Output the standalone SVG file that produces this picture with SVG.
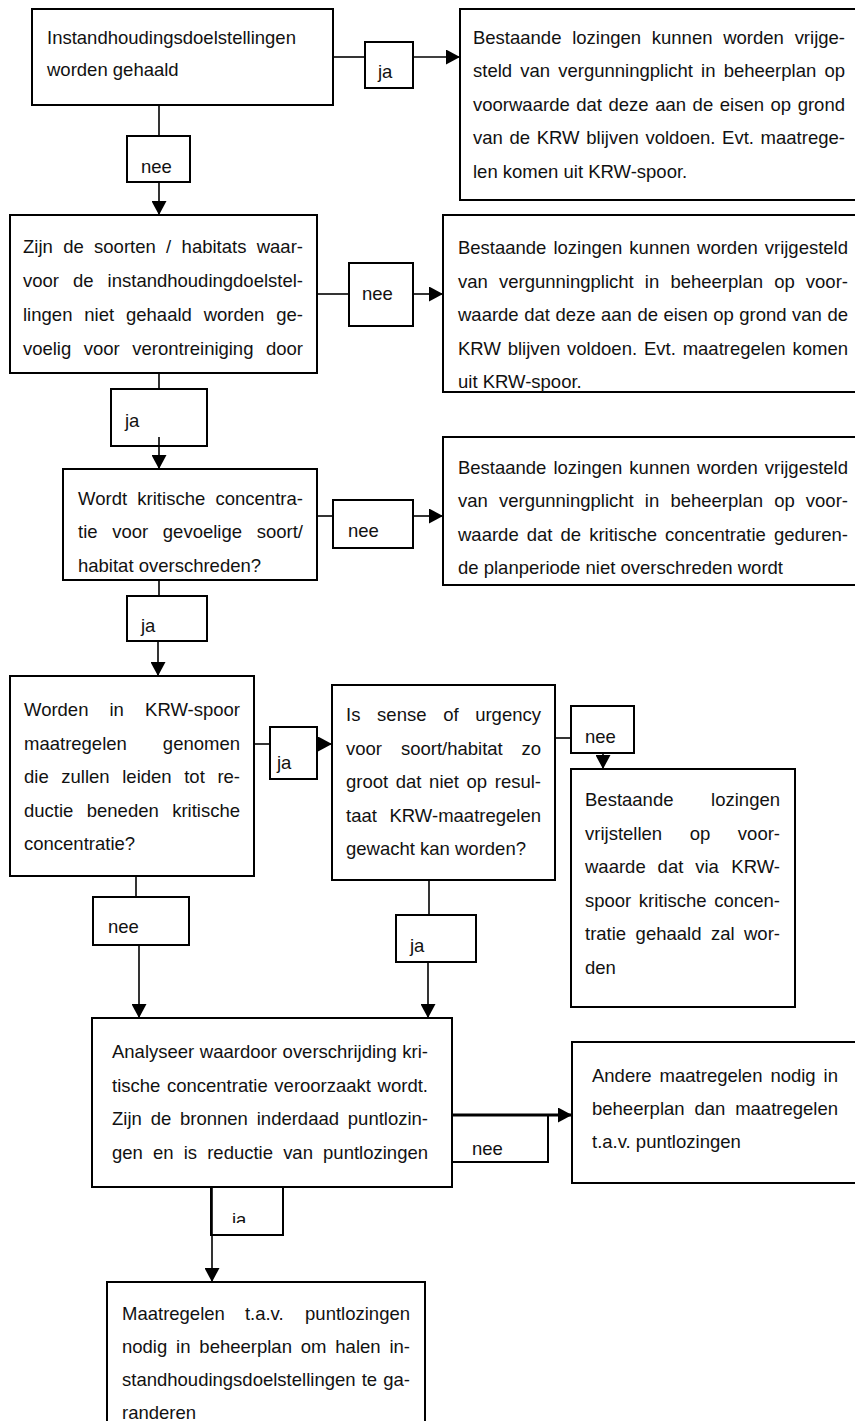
<svg xmlns="http://www.w3.org/2000/svg" width="855" height="1421" viewBox="0 0 855 1421">
<style>
.box{fill:#fff;stroke:#000;stroke-width:2}
.lbl{fill:#fff;stroke:#000;stroke-width:2}
.t{font-family:"Liberation Sans",Arial,sans-serif;font-size:18.5px;fill:#111}
.c{stroke:#000;stroke-width:1.6;fill:none}
.ce{stroke:#000;stroke-width:1.6;fill:none;marker-end:url(#ah)}
</style>
<defs>
<marker id="ah" viewBox="0 0 14 15" refX="14" refY="7.5" markerWidth="14" markerHeight="15" markerUnits="userSpaceOnUse" orient="auto">
<path d="M0,0 L14,7.5 L0,15 z" fill="#000"/>
</marker>
<clipPath id="clipJa12"><rect x="200" y="1187" width="100" height="36"/></clipPath>
</defs>

<g id="n1">
<rect class="box" x="32" y="9" width="301" height="96"/>
<text class="t" x="47" y="44">Instandhoudingsdoelstellingen</text>
<text class="t" x="47" y="76">worden gehaald</text>
</g>

<g id="n2">
<rect class="box" x="460" y="9" width="410" height="191"/>
<text class="t" x="473" y="43.5" word-spacing="5.6" textLength="372" lengthAdjust="spacing">Bestaande lozingen kunnen worden vrijge-</text>
<text class="t" x="473" y="77" word-spacing="3" textLength="372" lengthAdjust="spacing">steld van vergunningplicht in beheerplan op</text>
<text class="t" x="473" y="110.5" word-spacing="1.4" textLength="372" lengthAdjust="spacing">voorwaarde dat deze aan de eisen op grond</text>
<text class="t" x="473" y="144" word-spacing="1.5" textLength="372" lengthAdjust="spacing">van de KRW blijven voldoen. Evt. maatrege-</text>
<text class="t" x="473" y="177.5">len komen uit KRW-spoor.</text>
</g>

<g id="n3">
<rect class="box" x="10" y="215" width="307" height="158"/>
<text class="t" x="23" y="253" word-spacing="5.2" textLength="280" lengthAdjust="spacing">Zijn de soorten / habitats waar-</text>
<text class="t" x="23" y="287" word-spacing="8.9" textLength="280" lengthAdjust="spacing">voor de instandhoudingdoelstel-</text>
<text class="t" x="23" y="321" word-spacing="6.7" textLength="280" lengthAdjust="spacing">lingen niet gehaald worden ge-</text>
<text class="t" x="23" y="355" word-spacing="7.5" textLength="280" lengthAdjust="spacing">voelig voor verontreiniging door</text>
</g>

<g id="n4">
<rect class="box" x="443" y="215" width="427" height="177"/>
<text class="t" x="458" y="254" word-spacing="1.9" textLength="390" lengthAdjust="spacing">Bestaande lozingen kunnen worden vrijgesteld</text>
<text class="t" x="458" y="288" word-spacing="6" textLength="390" lengthAdjust="spacing">van vergunningplicht in beheerplan op voor-</text>
<text class="t" x="458" y="321" word-spacing="0.4" textLength="390" lengthAdjust="spacing">waarde dat deze aan de eisen op grond van de</text>
<text class="t" x="458" y="355" word-spacing="1.7" textLength="390" lengthAdjust="spacing">KRW blijven voldoen. Evt. maatregelen komen</text>
<text class="t" x="458" y="388">uit KRW-spoor.</text>
</g>

<g id="n5">
<rect class="box" x="63" y="469" width="254" height="111"/>
<text class="t" x="78" y="505" word-spacing="5" textLength="225" lengthAdjust="spacing">Wordt kritische concentra-</text>
<text class="t" x="78" y="538" word-spacing="9.5" textLength="225" lengthAdjust="spacing">tie voor gevoelige soort/</text>
<text class="t" x="78" y="572">habitat overschreden?</text>
</g>

<g id="n6">
<rect class="box" x="443" y="437" width="427" height="148"/>
<text class="t" x="458" y="474" word-spacing="1.9" textLength="390" lengthAdjust="spacing">Bestaande lozingen kunnen worden vrijgesteld</text>
<text class="t" x="458" y="507" word-spacing="6" textLength="390" lengthAdjust="spacing">van vergunningplicht in beheerplan op voor-</text>
<text class="t" x="458" y="541" word-spacing="2.9" textLength="390" lengthAdjust="spacing">waarde dat de kritische concentratie geduren-</text>
<text class="t" x="458" y="574">de planperiode niet overschreden wordt</text>
</g>

<g id="n7">
<rect class="box" x="10" y="676" width="244" height="200"/>
<text class="t" x="24" y="716">Worden</text>
<text class="t" x="109.4" y="716">in</text>
<text class="t" x="240" y="716" text-anchor="end">KRW-spoor</text>
<text class="t" x="24" y="750">maatregelen</text>
<text class="t" x="240" y="750" text-anchor="end">genomen</text>
<text class="t" x="24" y="783" word-spacing="7.5" textLength="216" lengthAdjust="spacing">die zullen leiden tot re-</text>
<text class="t" x="24" y="817" word-spacing="8.3" textLength="216" lengthAdjust="spacing">ductie beneden kritische</text>
<text class="t" x="24" y="850">concentratie?</text>
</g>

<g id="n8">
<rect class="box" x="332" y="685" width="223" height="195"/>
<text class="t" x="346" y="721">Is</text>
<text class="t" x="377.1" y="721">sense</text>
<text class="t" x="443.2" y="721">of</text>
<text class="t" x="541" y="721" text-anchor="end">urgency</text>
<text class="t" x="346" y="755">voor</text>
<text class="t" x="400.9" y="755">soort/habitat</text>
<text class="t" x="541" y="755" text-anchor="end">zo</text>
<text class="t" x="346" y="788" word-spacing="2.5" textLength="195" lengthAdjust="spacing">groot dat niet op resul-</text>
<text class="t" x="346" y="822">taat</text>
<text class="t" x="541" y="822" text-anchor="end">KRW-maatregelen</text>
<text class="t" x="346" y="855">gewacht kan worden?</text>
</g>

<g id="n9">
<rect class="box" x="571" y="769" width="224" height="238"/>
<text class="t" x="585" y="806">Bestaande</text>
<text class="t" x="780" y="806" text-anchor="end">lozingen</text>
<text class="t" x="585" y="840">vrijstellen</text>
<text class="t" x="689.7" y="840">op</text>
<text class="t" x="780" y="840" text-anchor="end">voor-</text>
<text class="t" x="585" y="873">waarde</text>
<text class="t" x="657.6" y="873">dat</text>
<text class="t" x="695.2" y="873">via</text>
<text class="t" x="780" y="873" text-anchor="end">KRW-</text>
<text class="t" x="585" y="907" word-spacing="2.4" textLength="195" lengthAdjust="spacing">spoor kritische concen-</text>
<text class="t" x="585" y="940" word-spacing="4.3" textLength="195" lengthAdjust="spacing">tratie gehaald zal wor-</text>
<text class="t" x="585" y="974">den</text>
</g>

<g id="n10">
<rect class="box" x="92" y="1018" width="360" height="169"/>
<text class="t" x="112" y="1058" word-spacing="0.5" textLength="316" lengthAdjust="spacing">Analyseer waardoor overschrijding kri-</text>
<text class="t" x="112" y="1092" word-spacing="1.5" textLength="316" lengthAdjust="spacing">tische concentratie veroorzaakt wordt.</text>
<text class="t" x="112" y="1125" word-spacing="3.7" textLength="316" lengthAdjust="spacing">Zijn de bronnen inderdaad puntlozin-</text>
<text class="t" x="112" y="1159" word-spacing="5" textLength="316" lengthAdjust="spacing">gen en is reductie van puntlozingen</text>
</g>

<g id="n11">
<rect class="box" x="572" y="1042" width="298" height="141"/>
<text class="t" x="592" y="1082" word-spacing="2.8" textLength="246" lengthAdjust="spacing">Andere maatregelen nodig in</text>
<text class="t" x="592" y="1115" word-spacing="4.7" textLength="246" lengthAdjust="spacing">beheerplan dan maatregelen</text>
<text class="t" x="592" y="1148">t.a.v. puntlozingen</text>
</g>

<g id="n12">
<rect class="box" x="107" y="1282" width="318" height="170"/>
<text class="t" x="122" y="1320">Maatregelen</text>
<text class="t" x="244.9" y="1320">t.a.v.</text>
<text class="t" x="410" y="1320" text-anchor="end">puntlozingen</text>
<text class="t" x="122" y="1353" word-spacing="3.7" textLength="288" lengthAdjust="spacing">nodig in beheerplan om halen in-</text>
<text class="t" x="122" y="1386" word-spacing="1" textLength="288" lengthAdjust="spacing">standhoudingsdoelstellingen te ga-</text>
<text class="t" x="122" y="1419">randeren</text>
</g>

<g id="labels">
<g id="l1"><rect class="lbl" x="365" y="42" width="48" height="46"/><text class="t" x="378" y="78">ja</text></g>
<g id="l2"><rect class="lbl" x="127" y="136" width="63" height="46"/><text class="t" x="141" y="173">nee</text></g>
<g id="l3"><rect class="lbl" x="349" y="263" width="64" height="63"/><text class="t" x="362" y="300">nee</text></g>
<g id="l4"><rect class="lbl" x="111" y="389" width="96" height="57"/><text class="t" x="125" y="427">ja</text></g>
<g id="l5"><rect class="lbl" x="333" y="500" width="80" height="48"/><text class="t" x="348" y="537">nee</text></g>
<g id="l6"><rect class="lbl" x="127" y="596" width="80" height="45"/><text class="t" x="141" y="632">ja</text></g>
<g id="l7"><rect class="lbl" x="270" y="727" width="47" height="52"/><text class="t" x="277" y="769">ja</text></g>
<g id="l8"><rect class="lbl" x="571" y="706" width="63" height="47"/><text class="t" x="585" y="743">nee</text></g>
<g id="l9"><rect class="lbl" x="93" y="897" width="96" height="48"/><text class="t" x="108" y="933">nee</text></g>
<g id="l10"><rect class="lbl" x="396" y="915" width="80" height="47"/><text class="t" x="410" y="952">ja</text></g>
<g id="l11"><path d="M452,1162 L548,1162 L548,1115" fill="none" stroke="#000" stroke-width="2"/><text class="t" x="472" y="1155">nee</text></g>
<g id="l12"><rect class="lbl" x="211" y="1187" width="72" height="48"/><text class="t" x="232" y="1226" clip-path="url(#clipJa12)">ja</text></g>
</g>

<g id="connectors">
<line class="c" x1="333" y1="57" x2="365" y2="57"/>
<line class="ce" x1="413" y1="57" x2="460" y2="57"/>
<line class="c" x1="159" y1="105" x2="159" y2="136"/>
<line class="ce" x1="159" y1="182" x2="159" y2="215"/>
<line class="c" x1="317" y1="294" x2="349" y2="294"/>
<line class="ce" x1="413" y1="294" x2="443" y2="294"/>
<line class="c" x1="159" y1="373" x2="159" y2="389"/>
<line class="ce" x1="159" y1="437" x2="159" y2="469"/>
<line class="c" x1="317" y1="516" x2="333" y2="516"/>
<line class="ce" x1="413" y1="516" x2="443" y2="516"/>
<line class="c" x1="159" y1="580" x2="159" y2="596"/>
<line class="ce" x1="158" y1="641" x2="158" y2="676"/>
<line class="c" x1="254" y1="744" x2="270" y2="744"/>
<line class="ce" x1="317" y1="744" x2="332" y2="744"/>
<line class="c" x1="555" y1="738" x2="571" y2="738"/>
<line class="ce" x1="603" y1="753" x2="603" y2="769"/>
<line class="c" x1="136" y1="876" x2="136" y2="897"/>
<line class="ce" x1="139" y1="945" x2="139" y2="1018"/>
<line class="c" x1="429" y1="880" x2="429" y2="915"/>
<line class="ce" x1="428" y1="962" x2="428" y2="1018"/>
<line class="ce" x1="452" y1="1115" x2="572" y2="1115" style="stroke-width:3"/>
<line class="ce" x1="212" y1="1187" x2="212" y2="1282"/>
</g>
</svg>
